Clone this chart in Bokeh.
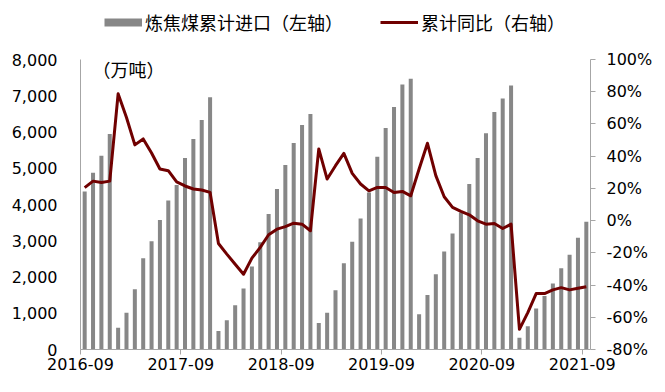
from bokeh.plotting import figure
from bokeh.layouts import column
from bokeh.models import (Range1d, LinearAxis, FixedTicker, NumeralTickFormatter,
                          PrintfTickFormatter, Legend, LegendItem, Label, ColumnDataSource)
from bokeh.embed import file_html
from bokeh.resources import INLINE

# ---------------- data ----------------
months = [
    "2016-09", "2016-10", "2016-11", "2016-12",
    "2017-01", "2017-02", "2017-03", "2017-04", "2017-05", "2017-06",
    "2017-07", "2017-08", "2017-09", "2017-10", "2017-11", "2017-12",
    "2018-01", "2018-02", "2018-03", "2018-04", "2018-05", "2018-06",
    "2018-07", "2018-08", "2018-09", "2018-10", "2018-11", "2018-12",
    "2019-01", "2019-02", "2019-03", "2019-04", "2019-05", "2019-06",
    "2019-07", "2019-08", "2019-09", "2019-10", "2019-11", "2019-12",
    "2020-01", "2020-02", "2020-03", "2020-04", "2020-05", "2020-06",
    "2020-07", "2020-08", "2020-09", "2020-10", "2020-11", "2020-12",
    "2021-01", "2021-02", "2021-03", "2021-04", "2021-05", "2021-06",
    "2021-07", "2021-08", "2021-09",
]
# 炼焦煤累计进口（万吨）
imports = [
    4360, 4877, 5347, 5946,
    603, 1017, 1663, 2519, 2989, 3569, 4112, 4536, 5282, 5807, 6332, 6957,
    511, 806, 1221, 1680, 2288, 2962, 3736, 4426, 5089, 5697, 6195, 6499,
    732, 1017, 1636, 2382, 2970, 3614, 4333, 5319, 6112, 6692, 7308, 7466,
    973, 1506, 2078, 2703, 3200, 3780, 4564, 5282, 5963, 6554, 6921, 7281,
    326, 641, 1128, 1478, 1818, 2243, 2611, 3081, 3523,
]
# 累计同比（%）
yoy = [
    20.5, 24.5, 23.7, 24.5,
    78.7, 64.0, 47.0, 50.7, 42.0, 32.0, 31.0, 24.0, 21.5, 19.6, 19.0, 17.5,
    -14.2, -20.8, -27.1, -33.3, -23.3, -16.6, -8.8, -5.3, -3.7, -1.6, -2.2, -6.3,
    44.5, 25.8, 34.1, 41.7, 29.3, 22.7, 18.5, 20.6, 20.6, 17.5, 18.1, 15.4,
    32.0, 48.0, 27.9, 14.8, 8.2, 5.7, 3.6, -0.1, -2.2, -1.8, -4.9, -2.2,
    -67.5, -57.1, -45.3, -45.3, -43.0, -41.6, -43.0, -42.0, -41.0,
]
xtick_labels = ["2016-09", "2017-09", "2018-09", "2019-09", "2020-09", "2021-09"]
left_ticks = [0, 1000, 2000, 3000, 4000, 5000, 6000, 7000, 8000]
right_ticks = [-80, -60, -40, -20, 0, 20, 40, 60, 80, 100]
bar_name = "炼焦煤累计进口（左轴）"
line_name = "累计同比（右轴）"
unit_text = "（万吨）"

# ---------------- style ----------------
BAR_COLOR = "#878787"
LINE_COLOR = "#700000"
AXIS_COLOR = "#A6A6A6"
NUM_FONT = "DejaVu Sans"
CJK_FONT = "Noto Sans CJK SC"
W = 657
HEAD_H = 40
NAN = float("nan")

idx = list(range(len(months)))
src = ColumnDataSource(data=dict(x=idx, month=months, imports=imports, yoy=yoy))

# ---------------- header with legend ----------------
head = figure(width=W, height=HEAD_H, output_backend="svg", toolbar_location=None,
              x_range=Range1d(0, 1), y_range=Range1d(0, 1),
              x_axis_location=None, y_axis_location=None,
              min_border_left=80, min_border_right=67,
              min_border_top=0, min_border_bottom=0)
head.outline_line_color = None
head.grid.visible = False
head.background_fill_color = "white"
head.border_fill_color = "white"
bar_proxy = head.line(x=[NAN], y=[NAN], line_color=BAR_COLOR, line_width=8,
                      line_cap="butt")
line_proxy = head.line(x=[NAN], y=[NAN], line_color=LINE_COLOR, line_width=3,
                       line_cap="butt")
legend = Legend(items=[LegendItem(label=bar_name, renderers=[bar_proxy]),
                       LegendItem(label=line_name, renderers=[line_proxy])],
                orientation="horizontal", location=(24, 5),
                padding=0, margin=0, spacing=37,
                glyph_width=38, glyph_height=20, label_standoff=3, label_height=20,
                label_text_font=CJK_FONT, label_text_font_size="18px",
                label_text_color="black",
                border_line_color=None, background_fill_alpha=0)
head.add_layout(legend, "center")

# ---------------- main chart ----------------
p = figure(width=W, height=344, output_backend="svg", toolbar_location=None,
           x_range=Range1d(-0.5, len(months) - 0.5), y_range=Range1d(0, 8000),
           min_border_left=80, min_border_right=67, min_border_top=19,
           min_border_bottom=35)
p.extra_y_ranges = {"pct": Range1d(-80, 100)}
p.outline_line_color = None
p.grid.visible = False
p.background_fill_color = "white"
p.border_fill_color = "white"

p.vbar(x="x", top="imports", width=0.48, bottom=0, source=src,
       fill_color=BAR_COLOR, line_color=None)
p.line(x="x", y="yoy", source=src, y_range_name="pct",
       line_color=LINE_COLOR, line_width=3, line_join="round")

# bottom axis
xa = p.xaxis[0]
tick_pos = [months.index(m) - 0.5 for m in xtick_labels]
xa.ticker = FixedTicker(ticks=tick_pos)
xa.major_label_overrides = {t: lbl for t, lbl in zip(tick_pos, xtick_labels)}
xa.minor_tick_line_color = None
xa.major_tick_in = 0
xa.major_tick_out = 5
xa.major_label_standoff = 3
xa.axis_line_color = AXIS_COLOR
xa.major_tick_line_color = AXIS_COLOR
xa.major_label_text_font = NUM_FONT
xa.major_label_text_font_size = "16px"
xa.major_label_text_color = "black"

# left axis
ya = p.yaxis[0]
ya.ticker = FixedTicker(ticks=left_ticks)
ya.formatter = NumeralTickFormatter(format="0,0")
ya.minor_tick_line_color = None
ya.major_tick_in = 0
ya.major_tick_out = 0
ya.major_label_standoff = 23
ya.axis_line_color = AXIS_COLOR
ya.major_label_text_font = NUM_FONT
ya.major_label_text_font_size = "16px"
ya.major_label_text_color = "black"

# right axis
ra = LinearAxis(y_range_name="pct")
ra.ticker = FixedTicker(ticks=right_ticks)
ra.formatter = PrintfTickFormatter(format="%d%%")
ra.minor_tick_line_color = None
ra.major_tick_in = 0
ra.major_tick_out = 5
ra.major_label_standoff = 11
ra.axis_line_color = AXIS_COLOR
ra.major_tick_line_color = AXIS_COLOR
ra.major_label_text_font = NUM_FONT
ra.major_label_text_font_size = "16px"
ra.major_label_text_color = "black"
p.add_layout(ra, "right")

# unit label
p.add_layout(Label(x=12, y=281, x_units="screen", y_units="screen", text=unit_text,
                   text_font=CJK_FONT, text_font_size="18px", text_color="black",
                   text_baseline="middle", text_align="left"))

layout = column(head, p, spacing=0)
open("out.html", "w").write(file_html(layout, INLINE))
